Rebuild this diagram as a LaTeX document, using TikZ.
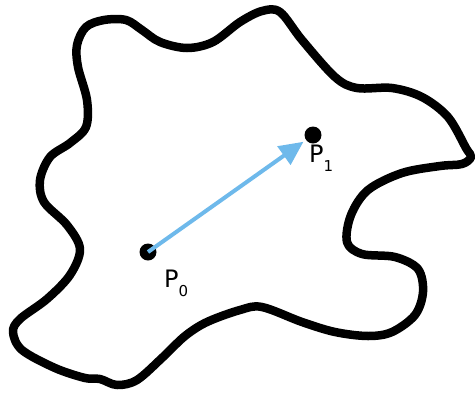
\documentclass[tikz,border=0pt]{standalone}
\usepackage{fontspec}
\setmainfont{DejaVu Sans}
\usetikzlibrary{arrows.meta}
\definecolor{arrowblue}{RGB}{110,185,235}
\tikzset{
  outline/.style={line width=8.5pt, line join=round, black},
  dot/.style={circle, fill=black, inner sep=0pt, minimum size=17pt},
  lbl/.style={font=\fontsize{24}{24}\selectfont, inner sep=0pt},
  vec/.style={arrowblue, line width=4pt, -{Triangle[length=24pt,width=22pt]}, shorten >=3pt}
}
\newcommand{\subtxt}[1]{\raisebox{-9pt}{\fontsize{15}{15}\selectfont #1}}
\begin{document}
\begin{tikzpicture}[x=1pt,y=-1pt]
\useasboundingbox (0,0) rectangle (475,392);
\draw[outline] plot[smooth cycle, tension=0.55] coordinates {
 (78,67) (77,45) (86,27) (104,20) (126,20) (142,30) (160,42) (187,48) (213,42) (240,22)
 (262,11) (280,12) (302,40) (335,77) (357,88) (392,88) (422,97) (448,117) (466,148) (471,157)
 (462,164) (440,166) (402,173) (368,190) (351,215) (347,242) (362,254) (395,257) (418,269)
 (423,292) (415,315) (392,332) (368,336) (335,332) (302,322) (262,307) (240,310) (207,322)
 (185,336) (163,357) (137,380) (117,385) (100,379) (85,378) (55,368) (22,350) (13,332) (20,319)
 (47,299) (70,275) (80,249) (67,225) (44,202) (40,180) (50,157) (70,143) (86,127) (87,100)
};
\node[dot] (p0) at (148,252) {};
\node[dot] (p1) at (313,135) {};
\draw[vec] (p0.center) -- (p1);
\node[lbl, anchor=base west] (l0) at (164,287) {P\subtxt{0}};
\node[lbl, anchor=base west] (l1) at (309,162) {P\subtxt{1}};
\end{tikzpicture}
\end{document}
